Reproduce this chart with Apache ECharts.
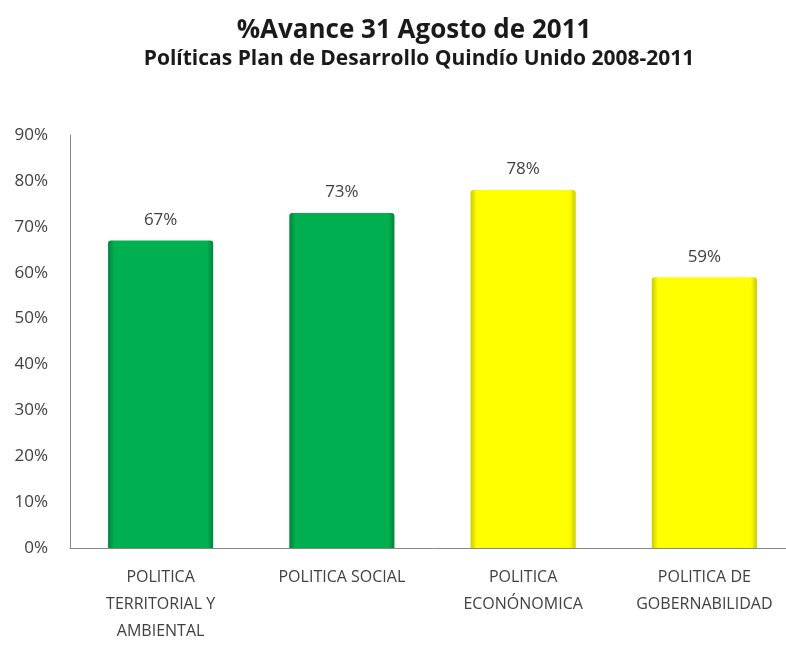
<!DOCTYPE html>
<html><head><meta charset="utf-8">
<script src="https://cdn.jsdelivr.net/npm/echarts@6/dist/echarts.min.js"></script>
<style>html,body{margin:0;padding:0;background:#fff;overflow:hidden}#c{width:800px;height:646px}</style>
</head><body><div id="c"></div>
<script>
const categories = ['POLITICA\nTERRITORIAL Y\nAMBIENTAL', 'POLITICA SOCIAL', 'POLITICA\nECONÓNOMICA', 'POLITICA DE\nGOBERNABILIDAD'];
const values = [67, 73, 78, 59];
const barColors = ['green', 'green', 'yellow', 'yellow'];
const yTicks = [0, 10, 20, 30, 40, 50, 60, 70, 80, 90];

const palettes = {
  green: {edge: '#00853d', mid: '#00b050'},
  yellow: {edge: '#cccc00', mid: '#ffff00'}
};
function grad(p) {
  return new echarts.graphic.LinearGradient(0, 0, 1, 0, [
    {offset: 0, color: p.edge}, {offset: 0.06, color: p.mid},
    {offset: 0.94, color: p.mid}, {offset: 1, color: p.edge}
  ]);
}
const chart = echarts.init(document.getElementById('c'));
const font = 'Open Sans';
chart.setOption({
  animation: false,
  title: [
    {text: '%Avance 31 Agosto de 2011', left: 409, top: 13, textAlign: 'center',
     textStyle: {fontFamily: font, fontSize: 26, fontWeight: 'bold', color: '#1a1a1a'}},
    {text: 'Políticas Plan de Desarrollo Quindío Unido 2008-2011', left: 414, top: 44, textAlign: 'center',
     textStyle: {fontFamily: font, fontSize: 21, fontWeight: 'bold', color: '#1a1a1a'}}
  ],
  grid: {left: 70, width: 725, top: 135, bottom: 98, containLabel: false},
  xAxis: {
    type: 'category', data: categories,
    axisLine: {lineStyle: {color: '#868686'}},
    axisTick: {show: false},
    axisLabel: {fontFamily: font, fontSize: 16, color: '#404040', lineHeight: 27, margin: 16, interval: 0}
  },
  yAxis: {
    type: 'value', min: 0, max: 90, interval: 10,
    axisLine: {show: true, lineStyle: {color: '#868686'}},
    axisTick: {show: false},
    splitLine: {show: false},
    axisLabel: {fontFamily: font, fontSize: 17, color: '#404040', margin: 22,
      formatter: v => yTicks.includes(v) ? v + '%' : ''}
  },
  series: [{
    type: 'bar', barWidth: '58%',
    data: values.map((v, i) => ({value: v, itemStyle: {color: grad(palettes[barColors[i]]), borderRadius: [3,3,0,0]}})),
    label: {show: true, position: 'top', distance: 12, formatter: p => p.value + '%',
      fontFamily: font, fontSize: 17, color: '#404040'}
  }]
});
</script></body></html>
